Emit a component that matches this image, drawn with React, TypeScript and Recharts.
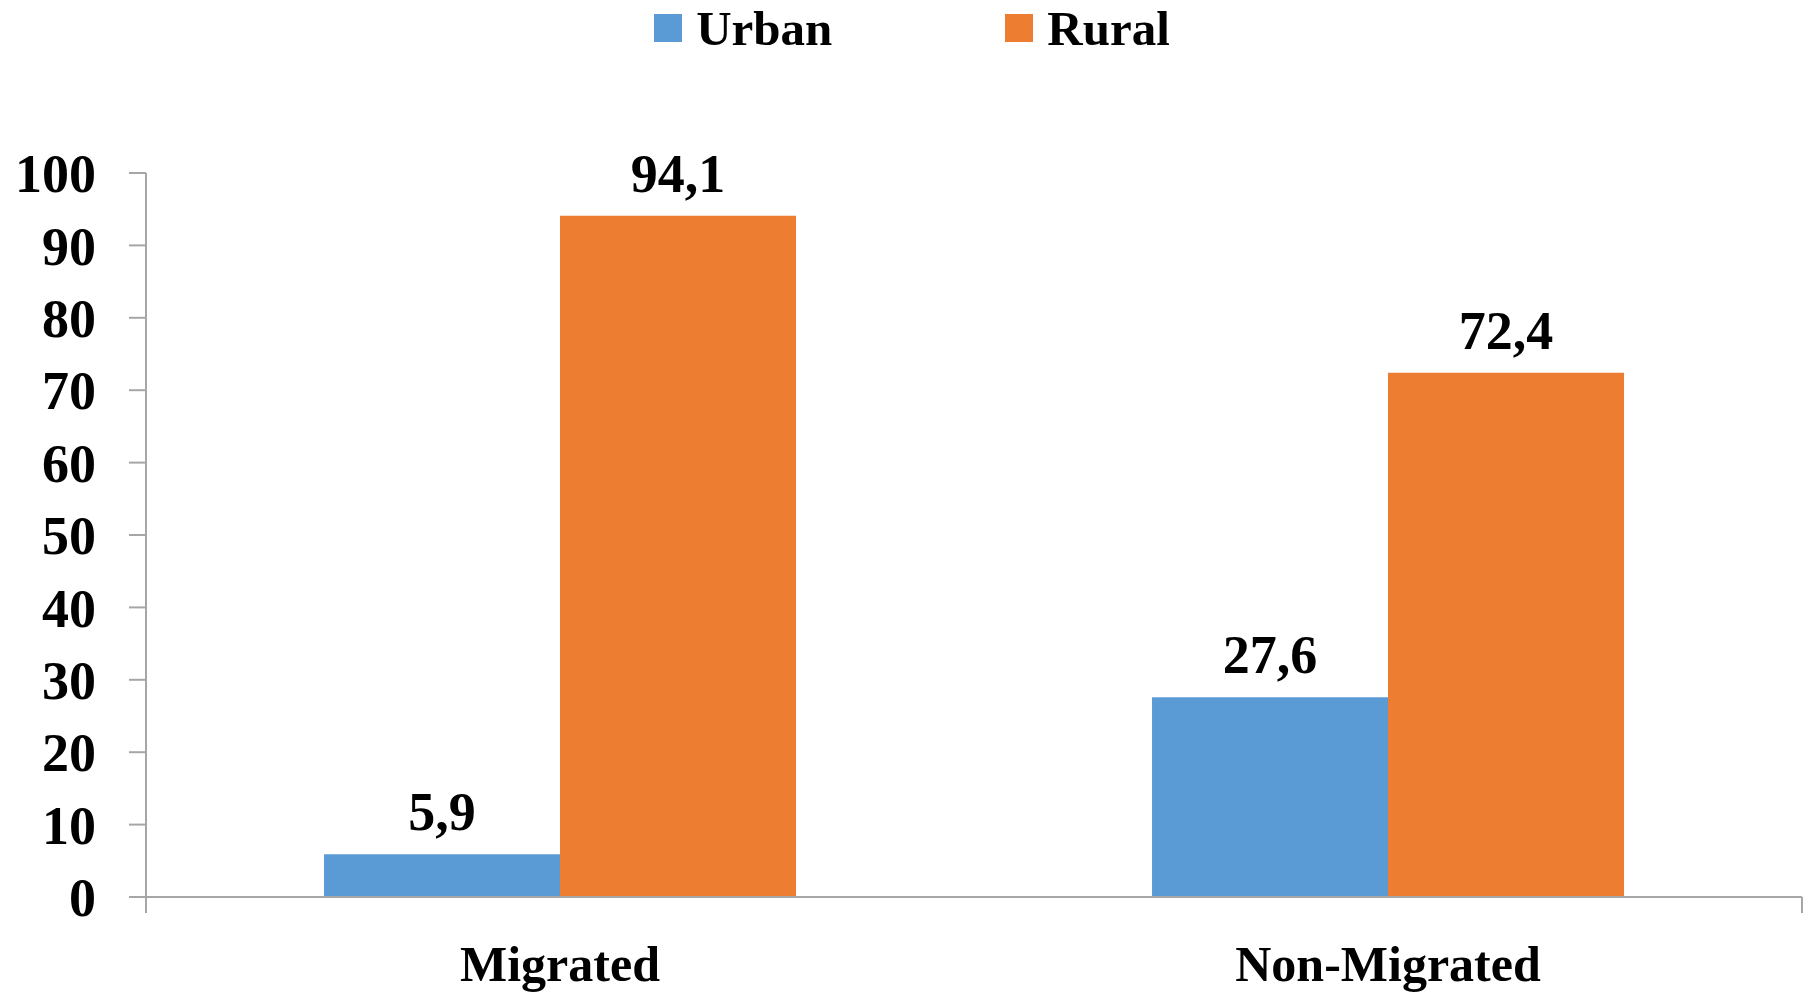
import { Bar, BarChart, LabelList, Legend, XAxis, YAxis } from 'recharts';

const CATEGORIES = ['Migrated', 'Non-Migrated'];
const URBAN = [5.9, 27.6];
const RURAL = [94.1, 72.4];
const Y_TICKS = [0, 10, 20, 30, 40, 50, 60, 70, 80, 90, 100];
const EDGE_TICKS = [0, 1, 2];

const SERIES = [
  { key: 'Urban', color: '#5B9BD5' },
  { key: 'Rural', color: '#ED7D31' },
];

const FONT = '"Liberation Serif", "Times New Roman", serif';
const AXIS = '#A6A6A6';

const data = CATEGORIES.map((name, i) => ({ name, Urban: URBAN[i], Rural: RURAL[i] }));

const fmt = (v: any) => String(v).replace('.', ',');

function TopLegend() {
  return (
    <div
      style={{
        display: 'flex',
        justifyContent: 'center',
        alignItems: 'center',
        height: 56,
        fontFamily: FONT,
        fontWeight: 'bold',
        fontSize: 49,
        paddingLeft: 10,
      }}
    >
      {SERIES.map((s, i) => (
        <div key={s.key} style={{ display: 'flex', alignItems: 'center', marginLeft: i ? 173 : 0 }}>
          <span style={{ width: 28, height: 28, background: s.color, marginRight: 14, display: 'inline-block' }} />
          <span>{s.key}</span>
        </div>
      ))}
    </div>
  );
}

export default function App() {
  return (
    <div style={{ position: 'absolute', left: 0, top: 0, background: '#fff' }}>
      <BarChart
        width={1814}
        height={995}
        data={data}
        margin={{ top: 117, right: 12, left: 0, bottom: 0 }}
        barCategoryGap="21.5%"
        barGap={0}
      >
        <Legend
          verticalAlign="top"
          content={() => <TopLegend />}
          wrapperStyle={{ top: 0, left: 0, width: 1814 }}
        />
        {/* edge axis: only draws the axis line and the category-boundary ticks */}
        <XAxis
          xAxisId="a_edge"
          type="number"
          domain={[0, 2]}
          ticks={EDGE_TICKS}
          interval={0}
          tick={() => <g />}
          tickSize={16}
          height={1}
          axisLine={{ stroke: AXIS, strokeWidth: 2 }}
          tickLine={{ stroke: AXIS, strokeWidth: 2 }}
        />
        <XAxis
          xAxisId="b_cat"
          dataKey="name"
          height={97}
          axisLine={false}
          tickLine={false}
          tickSize={16}
          tickMargin={31}
          tick={{ fill: '#000', fontFamily: FONT, fontWeight: 'bold', fontSize: 50 }}
        />
        <YAxis
          domain={[0, 100]}
          ticks={Y_TICKS}
          width={146}
          interval={0}
          tickSize={17}
          tickMargin={33}
          axisLine={{ stroke: AXIS, strokeWidth: 2 }}
          tickLine={{ stroke: AXIS, strokeWidth: 2 }}
          tick={{ fill: '#000', fontFamily: FONT, fontWeight: 'bold', fontSize: 54 }}
        />
        {SERIES.map((s) => (
          <Bar key={s.key} xAxisId="b_cat" dataKey={s.key} fill={s.color} isAnimationActive={false}>
            <LabelList
              dataKey={s.key}
              position="top"
              offset={24}
              formatter={fmt}
              fill="#000"
              fontFamily={FONT}
              fontWeight="bold"
              fontSize={54}
            />
          </Bar>
        ))}
      </BarChart>
    </div>
  );
}
